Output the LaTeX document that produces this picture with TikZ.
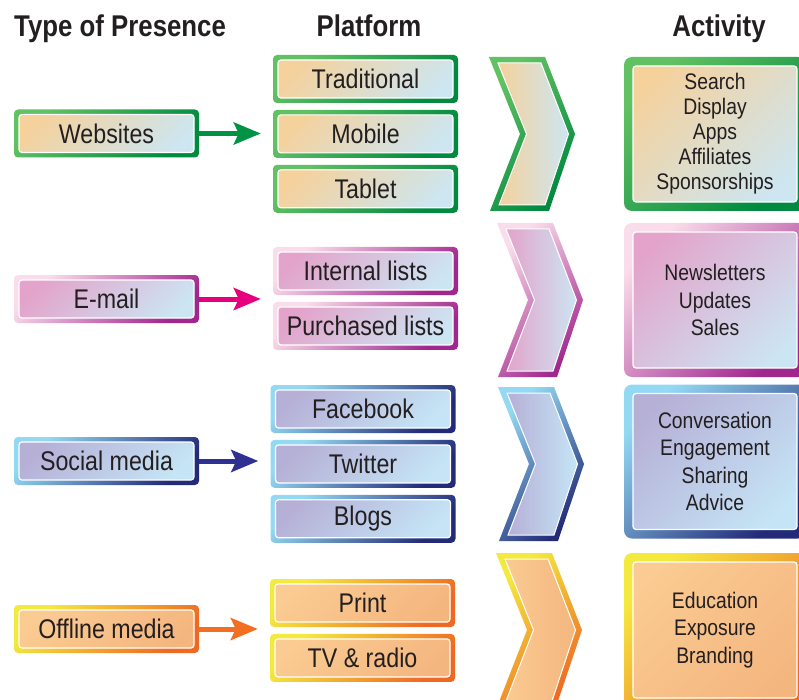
\documentclass[tikz,border=0pt]{standalone}
\usepackage{fontspec}
\setmainfont{Liberation Sans}[FakeStretch=0.86]
\usetikzlibrary{arrows.meta,positioning}

\definecolor{txt}{HTML}{231F20}
% websites
\definecolor{web1}{HTML}{62C163}
\definecolor{web2}{HTML}{008A3F}
\definecolor{web3}{HTML}{F5D19C}
\definecolor{web4}{HTML}{CDE6F1}
\definecolor{webarrow}{HTML}{009245}
% e-mail
\definecolor{mail1}{HTML}{FADDEA}
\definecolor{mail2}{HTML}{A1278F}
\definecolor{mail3}{HTML}{E3A3CA}
\definecolor{mail4}{HTML}{CCE5F3}
\definecolor{mailarrow}{HTML}{E6007E}
% social media
\definecolor{soc1}{HTML}{93D9F3}
\definecolor{soc2}{HTML}{232B78}
\definecolor{soc3}{HTML}{B6AFD6}
\definecolor{soc4}{HTML}{C5E5F6}
\definecolor{socarrow}{HTML}{2E3192}
% offline media
\definecolor{off1}{HTML}{F4EA3F}
\definecolor{off2}{HTML}{EE6A24}
\definecolor{off3}{HTML}{FACB92}
\definecolor{off4}{HTML}{F4B67F}
\definecolor{offarrow}{HTML}{F26F21}

\tikzset{
  glossgap/.store in=\glossgap, glossgap=5pt,
  glossy/.style={draw=none, rounded corners=4pt, text=txt,
    top color=#11, bottom color=#12, shading angle=45,
    path picture={\shadedraw[draw=white, line width=1.2pt, rounded corners=3pt,
        top color=#13, bottom color=#14, shading angle=45]
      ([shift={(\glossgap,-\glossgap)}]path picture bounding box.north west) rectangle
      ([shift={(-\glossgap,\glossgap)}]path picture bounding box.south east);}},
  typebox/.style={glossy=#1, minimum width=185pt, minimum height=48pt,
    font=\fontsize{27}{30}\selectfont},
  actbox/.style={glossy=#1, glossgap=9pt, rounded corners=8pt, minimum width=182pt,
    minimum height=154pt, align=center, font=\fontsize{22.5}{27.5}\selectfont},
  head/.style={font=\fontsize{30}{33}\selectfont\bfseries, text=txt, anchor=base, inner sep=0pt},
  link/.style={line width=5pt, -{Stealth[length=27pt,width=22pt,inset=5pt]}, shorten >=12pt}
}

% chevron: x, y of top left corner, colour group
\newcommand{\chevron}[3]{%
  \begin{scope}[shift={(#1,#2)}]
    \shade[top color=#31, bottom color=#32, shading angle=45]
      (0,0) -- (56,0) -- (86,77) -- (60,154) -- (1,154) -- (31,77) -- cycle;
    \shadedraw[draw=white, line width=1pt, left color=#33, right color=#34]
      (9,6) -- (52,6) -- (79.5,77) -- (56,148) -- (10,148) -- (37.5,77) -- cycle;
  \end{scope}}

\begin{document}
\begin{tikzpicture}[x=1pt, y=-1pt, node distance=6.5pt]
  \useasboundingbox (0,0) rectangle (799,700);

  % headings
  \node[head, anchor=base west] (hType) at (14,37) {Type of Presence};
  \node[head] (hPlat) at (369,37) {Platform};
  \node[head] (hAct) at (719,37) {Activity};

  % websites
  \node[typebox=web] (web) at (106.5,133.5) {Websites};
  \node[typebox=web] (trad) at (365.5,79) {Traditional};
  \node[typebox=web, below=of trad] (mobile) {Mobile};
  \node[typebox=web, below=of mobile] (tablet) {Tablet};
  \chevron{489}{57}{web}
  \node[actbox=web, font=\fontsize{22.5}{25}\selectfont] (actWeb) at (715,134)
    {Search\\Display\\Apps\\Affiliates\\Sponsorships};
  \draw[link, webarrow] (web.east) -- (web.east -| mobile.west);

  % e-mail
  \node[typebox=mail] (mail) at (106.5,299) {E-mail};
  \node[typebox=mail] (internal) at (365.5,271) {Internal lists};
  \node[typebox=mail, below=of internal] (bought) {Purchased lists};
  \chevron{497}{223}{mail}
  \node[actbox=mail] (actMail) at (715,300) {Newsletters\\Updates\\Sales};
  \draw[link, mailarrow] (mail.east) -- (mail.east -| internal.west);

  % social media
  \node[typebox=soc] (social) at (106.5,461) {Social media};
  \node[typebox=soc] (facebook) at (363,409) {Facebook};
  \node[typebox=soc, below=of facebook] (twitter) {Twitter};
  \node[typebox=soc, below=of twitter] (blogs) {Blogs};
  \chevron{498}{387}{soc}
  \node[actbox=soc] (actSoc) at (715,461.5)
    {Conversation\\Engagement\\Sharing\\Advice};
  \draw[link, socarrow] (social.east) -- (social.east -| twitter.west);

  % offline media
  \node[typebox=off] (offline) at (106.5,629) {Offline media};
  \node[typebox=off] (print) at (362.5,603) {Print};
  \node[typebox=off, below=of print] (tvradio) {TV \& radio};
  \chevron{496}{553}{off}
  \node[actbox=off] (actOff) at (715,630) {Education\\Exposure\\Branding};
  \draw[link, offarrow] (offline.east) -- (offline.east -| print.west);
\end{tikzpicture}
\end{document}
